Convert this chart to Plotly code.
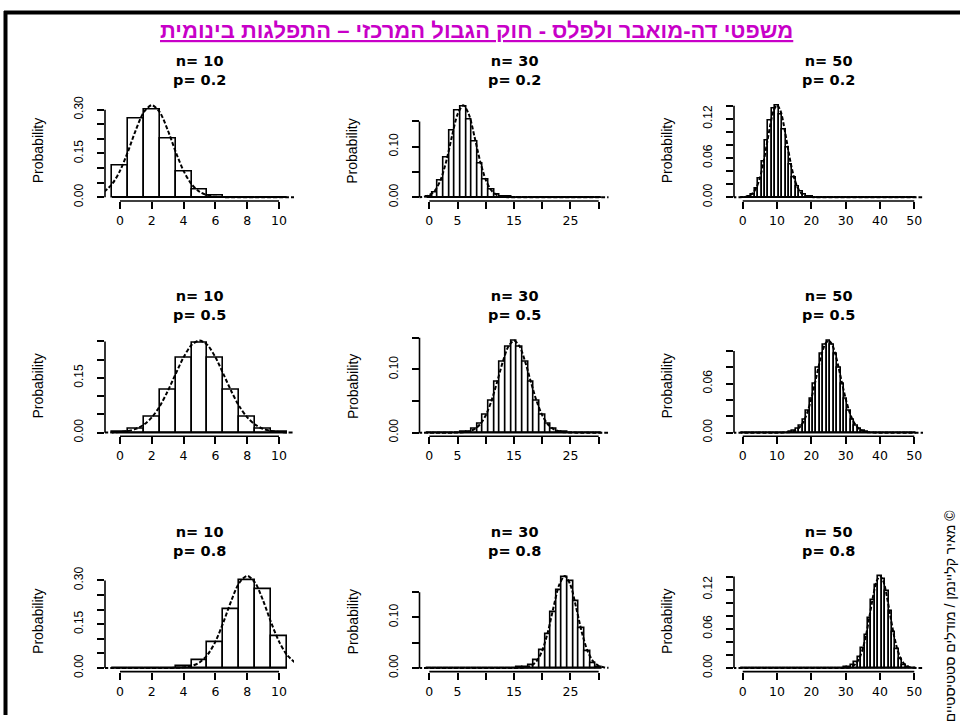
import plotly.graph_objects as go

W, H = 960, 721

# ---------------- data ----------------
k_n10 = list(range(0, 11))
k_n30 = list(range(0, 31))
k_n50 = list(range(0, 51))

binom_10_02 = [0.1074, 0.2684, 0.3020, 0.2013, 0.0881, 0.0264, 0.0055, 0.0008, 0.0001, 0.0000, 0.0000]
binom_10_05 = [0.0010, 0.0098, 0.0439, 0.1172, 0.2051, 0.2461, 0.2051, 0.1172, 0.0439, 0.0098, 0.0010]
binom_10_08 = [0.0000, 0.0000, 0.0001, 0.0008, 0.0055, 0.0264, 0.0881, 0.2013, 0.3020, 0.2684, 0.1074]

binom_30_02 = [0.0012, 0.0093, 0.0337, 0.0785, 0.1325, 0.1723, 0.1795, 0.1538, 0.1106, 0.0676,
               0.0355, 0.0161, 0.0064, 0.0022, 0.0007, 0.0002, 0.0000, 0.0000, 0.0000, 0.0000,
               0.0000, 0.0000, 0.0000, 0.0000, 0.0000, 0.0000, 0.0000, 0.0000, 0.0000, 0.0000, 0.0000]
binom_30_05 = [0.0000, 0.0000, 0.0000, 0.0000, 0.0000, 0.0001, 0.0006, 0.0019, 0.0055, 0.0133,
               0.0280, 0.0509, 0.0806, 0.1115, 0.1354, 0.1445, 0.1354, 0.1115, 0.0806, 0.0509,
               0.0280, 0.0133, 0.0055, 0.0019, 0.0006, 0.0001, 0.0000, 0.0000, 0.0000, 0.0000, 0.0000]
binom_30_08 = [0.0000, 0.0000, 0.0000, 0.0000, 0.0000, 0.0000, 0.0000, 0.0000, 0.0000, 0.0000,
               0.0000, 0.0000, 0.0000, 0.0000, 0.0000, 0.0002, 0.0007, 0.0022, 0.0064, 0.0161,
               0.0355, 0.0676, 0.1106, 0.1538, 0.1795, 0.1723, 0.1325, 0.0785, 0.0337, 0.0093, 0.0012]

binom_50_02 = [0.0000, 0.0002, 0.0011, 0.0044, 0.0128, 0.0295, 0.0554, 0.0870, 0.1169, 0.1364,
               0.1398, 0.1271, 0.1033, 0.0755, 0.0499, 0.0299, 0.0164, 0.0082, 0.0038, 0.0016,
               0.0006, 0.0002, 0.0001, 0.0000, 0.0000, 0.0000, 0.0000, 0.0000, 0.0000, 0.0000,
               0.0000, 0.0000, 0.0000, 0.0000, 0.0000, 0.0000, 0.0000, 0.0000, 0.0000, 0.0000,
               0.0000, 0.0000, 0.0000, 0.0000, 0.0000, 0.0000, 0.0000, 0.0000, 0.0000, 0.0000, 0.0000]
binom_50_05 = [0.0000, 0.0000, 0.0000, 0.0000, 0.0000, 0.0000, 0.0000, 0.0000, 0.0000, 0.0000,
               0.0000, 0.0000, 0.0001, 0.0003, 0.0008, 0.0020, 0.0044, 0.0087, 0.0160, 0.0270,
               0.0419, 0.0598, 0.0788, 0.0960, 0.1080, 0.1123, 0.1080, 0.0960, 0.0788, 0.0598,
               0.0419, 0.0270, 0.0160, 0.0087, 0.0044, 0.0020, 0.0008, 0.0003, 0.0001, 0.0000,
               0.0000, 0.0000, 0.0000, 0.0000, 0.0000, 0.0000, 0.0000, 0.0000, 0.0000, 0.0000, 0.0000]
binom_50_08 = [0.0000, 0.0000, 0.0000, 0.0000, 0.0000, 0.0000, 0.0000, 0.0000, 0.0000, 0.0000,
               0.0000, 0.0000, 0.0000, 0.0000, 0.0000, 0.0000, 0.0000, 0.0000, 0.0000, 0.0000,
               0.0000, 0.0000, 0.0000, 0.0000, 0.0000, 0.0000, 0.0000, 0.0000, 0.0001, 0.0002,
               0.0006, 0.0016, 0.0038, 0.0082, 0.0164, 0.0299, 0.0499, 0.0755, 0.1033, 0.1271,
               0.1398, 0.1364, 0.1169, 0.0870, 0.0554, 0.0295, 0.0128, 0.0044, 0.0011, 0.0002, 0.0000]

# normal approximation curves
curve_x_n10 = [-1.0, -0.5, 0.0, 0.5, 1.0, 1.5, 2.0, 2.5, 3.0, 3.5, 4.0, 4.5, 5.0,
               5.5, 6.0, 6.5, 7.0, 7.5, 8.0, 8.5, 9.0, 9.5, 10.0, 10.5, 11.0]
curve_10_02 = [0.0189, 0.0447, 0.0904, 0.1561, 0.2307, 0.2917, 0.3154, 0.2917, 0.2307, 0.1561,
               0.0904, 0.0447, 0.0189, 0.0069, 0.0021, 0.0006, 0.0001, 0, 0, 0, 0, 0, 0, 0, 0]
curve_10_05 = [0.0002, 0.0006, 0.0017, 0.0044, 0.0103, 0.0218, 0.0417, 0.0723, 0.1134, 0.1609,
               0.2066, 0.2400, 0.2523, 0.2400, 0.2066, 0.1609, 0.1134, 0.0723, 0.0417, 0.0218,
               0.0103, 0.0044, 0.0017, 0.0006, 0.0002]
curve_10_08 = [0, 0, 0, 0, 0, 0, 0, 0, 0.0001, 0.0006, 0.0021, 0.0069, 0.0189, 0.0447, 0.0904,
               0.1561, 0.2307, 0.2917, 0.3154, 0.2917, 0.2307, 0.1561, 0.0904, 0.0447, 0.0189]

curve_x_n30 = list(range(-2, 33))
curve_30_02 = [0.0002, 0.0011, 0.0043, 0.0135, 0.0344, 0.0713, 0.1200, 0.1641, 0.1821, 0.1641,
               0.1200, 0.0713, 0.0344, 0.0135, 0.0043, 0.0011, 0.0002, 0, 0, 0,
               0, 0, 0, 0, 0, 0, 0, 0, 0, 0, 0, 0, 0, 0, 0]
curve_30_05 = [0, 0, 0, 0, 0, 0, 0, 0.0002, 0.0007, 0.0020,
               0.0056, 0.0132, 0.0275, 0.0501, 0.0799, 0.1116, 0.1363, 0.1457, 0.1363, 0.1116,
               0.0799, 0.0501, 0.0275, 0.0132, 0.0056, 0.0020, 0.0007, 0.0002, 0, 0,
               0, 0, 0, 0, 0]
curve_30_08 = [0, 0, 0, 0, 0, 0, 0, 0, 0, 0,
               0, 0, 0, 0, 0, 0, 0, 0, 0.0002, 0.0011,
               0.0043, 0.0135, 0.0344, 0.0713, 0.1200, 0.1641, 0.1821, 0.1641, 0.1200, 0.0713,
               0.0344, 0.0135, 0.0043, 0.0011, 0.0002]

curve_x_n50 = list(range(-3, 54))
curve_50_02 = [0, 0, 0.0001, 0.0003, 0.0009, 0.0026, 0.0066, 0.0149, 0.0296, 0.0519,
               0.0804, 0.1098, 0.1325, 0.1410, 0.1325, 0.1098, 0.0804, 0.0519, 0.0296, 0.0149,
               0.0066, 0.0026, 0.0009, 0.0003, 0.0001, 0, 0, 0, 0, 0,
               0, 0, 0, 0, 0, 0, 0, 0, 0, 0,
               0, 0, 0, 0, 0, 0, 0, 0, 0, 0,
               0, 0, 0, 0, 0, 0, 0]
curve_50_05 = [0, 0, 0, 0, 0, 0, 0, 0, 0, 0,
               0, 0, 0, 0, 0, 0.0001, 0.0004, 0.0009, 0.0021, 0.0044,
               0.0087, 0.0159, 0.0267, 0.0415, 0.0595, 0.0787, 0.0962, 0.1084, 0.1128, 0.1084,
               0.0962, 0.0787, 0.0595, 0.0415, 0.0267, 0.0159, 0.0087, 0.0044, 0.0021, 0.0009,
               0.0004, 0.0001, 0, 0, 0, 0, 0, 0, 0, 0,
               0, 0, 0, 0, 0, 0, 0]
curve_50_08 = [0, 0, 0, 0, 0, 0, 0, 0, 0, 0,
               0, 0, 0, 0, 0, 0, 0, 0, 0, 0,
               0, 0, 0, 0, 0, 0, 0, 0, 0, 0,
               0, 0, 0.0001, 0.0003, 0.0009, 0.0026, 0.0066, 0.0149, 0.0296, 0.0519,
               0.0804, 0.1098, 0.1325, 0.1410, 0.1325, 0.1098, 0.0804, 0.0519, 0.0296, 0.0149,
               0.0066, 0.0026, 0.0009, 0.0003, 0.0001, 0, 0]

# tick labels
xt_n10 = [0, 2, 4, 6, 8, 10]
xl_n10 = ["0", "2", "4", "6", "8", "10"]
xt_n30 = [0, 5, 10, 15, 20, 25, 30]
xl_n30 = ["0", "5", "", "15", "", "25", ""]
xt_n50 = [0, 10, 20, 30, 40, 50]
xl_n50 = ["0", "10", "20", "30", "40", "50"]

yt_n10_skew = [0, 0.05, 0.10, 0.15, 0.20, 0.25, 0.30]
yl_n10_skew = ["0.00", "", "", "0.15", "", "", "0.30"]
yt_n10_sym = [0, 0.05, 0.10, 0.15, 0.20, 0.25]
yl_n10_sym = ["0.00", "", "", "0.15", "", ""]
yt_n30 = [0, 0.05, 0.10, 0.15]
yl_n30 = ["0.00", "", "0.10", ""]
yt_n50_skew = [0, 0.02, 0.04, 0.06, 0.08, 0.10, 0.12, 0.14]
yl_n50_skew = ["0.00", "", "", "0.06", "", "", "0.12", ""]
yt_n50_sym = [0, 0.02, 0.04, 0.06, 0.08, 0.10]
yl_n50_sym = ["0.00", "", "", "0.06", "", ""]

n_labels = ["10", "30", "50"]
p_labels = ["0.2", "0.5", "0.8"]

title_text = "משפטי דה-מואבר ולפלס - חוק הגבול המרכזי – התפלגות בינומית"
credit_text = "מאיר קליינמן / מודלים סטטיסטיים ©"
y_title = "Probability"

panels = [
    # row 0 : p = 0.2
    (k_n10, binom_10_02, curve_x_n10, curve_10_02, xt_n10, xl_n10, yt_n10_skew, yl_n10_skew),
    (k_n30, binom_30_02, curve_x_n30, curve_30_02, xt_n30, xl_n30, yt_n30, yl_n30),
    (k_n50, binom_50_02, curve_x_n50, curve_50_02, xt_n50, xl_n50, yt_n50_skew, yl_n50_skew),
    # row 1 : p = 0.5
    (k_n10, binom_10_05, curve_x_n10, curve_10_05, xt_n10, xl_n10, yt_n10_sym, yl_n10_sym),
    (k_n30, binom_30_05, curve_x_n30, curve_30_05, xt_n30, xl_n30, yt_n30, yl_n30),
    (k_n50, binom_50_05, curve_x_n50, curve_50_05, xt_n50, xl_n50, yt_n50_sym, yl_n50_sym),
    # row 2 : p = 0.8
    (k_n10, binom_10_08, curve_x_n10, curve_10_08, xt_n10, xl_n10, yt_n10_skew, yl_n10_skew),
    (k_n30, binom_30_08, curve_x_n30, curve_30_08, xt_n30, xl_n30, yt_n30, yl_n30),
    (k_n50, binom_50_08, curve_x_n50, curve_50_08, xt_n50, xl_n50, yt_n50_skew, yl_n50_skew),
]

# ---------------- layout geometry (pixels) ----------------
col_left = [105, 419.5, 734]
plot_w = 189
row_bottom = [199, 438, 677]
plot_h = 101

FONT = "Liberation Sans, Arial, sans-serif"
WIDE = "DejaVu Sans, Verdana, sans-serif"
LINE_W = 1.6

fig = go.Figure()
layout = dict(
    width=W, height=H,
    margin=dict(l=0, r=0, t=0, b=0),
    paper_bgcolor="white", plot_bgcolor="white",
    showlegend=False,
    font=dict(family=FONT, color="black", size=13),
)
shapes = []
annotations = []

for idx, (ks, probs, cx, cy, xt, xl, yt, yl) in enumerate(panels):
    r, c = divmod(idx, 3)
    ax = idx + 1
    xa = "x" if ax == 1 else f"x{ax}"
    ya = "y" if ax == 1 else f"y{ax}"
    xkey = "xaxis" if ax == 1 else f"xaxis{ax}"
    ykey = "yaxis" if ax == 1 else f"yaxis{ax}"

    x0p = col_left[c] / W
    x1p = (col_left[c] + plot_w) / W
    y0p = 1 - row_bottom[r] / H
    y1p = 1 - (row_bottom[r] - plot_h) / H

    lo, hi = ks[0] - 0.5, ks[-1] + 0.5
    pad_x = 0.04 * (hi - lo)
    ymax = max(max(probs), max(cy))

    layout[xkey] = dict(
        domain=[x0p, x1p], anchor=ya, range=[lo - pad_x, hi + pad_x],
        showgrid=False, zeroline=False, showline=False,
        ticks="outside", ticklen=7, tickwidth=LINE_W, tickcolor="black",
        tickmode="array", tickvals=xt, ticktext=xl,
        tickfont=dict(family=WIDE, size=12.5, color="black"),
        ticklabelstandoff=1, fixedrange=True,
    )
    layout[ykey] = dict(
        domain=[y0p, y1p], anchor=xa, range=[-0.04 * ymax, 1.04 * ymax],
        showgrid=False, zeroline=False, showline=False,
        ticks="outside", ticklen=7, tickwidth=LINE_W, tickcolor="black",
        tickmode="array", tickvals=yt, ticktext=yl, tickangle=-90,
        tickfont=dict(family=FONT, size=12, color="black"),
        ticklabelstandoff=9, fixedrange=True,
    )

    # bars
    fig.add_trace(go.Bar(
        x=ks, y=probs, width=1, xaxis=xa, yaxis=ya,
        marker=dict(color="white", line=dict(color="black", width=LINE_W)),
        hoverinfo="skip",
    ))
    # zero-height bar outlines (baseline)
    fig.add_trace(go.Scatter(
        x=[lo, hi], y=[0, 0], mode="lines", xaxis=xa, yaxis=ya,
        line=dict(color="black", width=LINE_W), hoverinfo="skip",
    ))
    # normal curve
    fig.add_trace(go.Scatter(
        x=cx, y=cy, mode="lines", xaxis=xa, yaxis=ya,
        line=dict(color="black", width=2, dash="4px,2px", shape="spline", smoothing=0.8),
        hoverinfo="skip",
    ))

    # R-style axis lines (first to last tick)
    shapes.append(dict(type="line", xref=xa, yref="paper",
                       x0=xt[0], x1=xt[-1], y0=y0p, y1=y0p,
                       line=dict(color="black", width=LINE_W)))
    shapes.append(dict(type="line", xref="paper", yref=ya,
                       x0=x0p, x1=x0p, y0=yt[0], y1=yt[-1],
                       line=dict(color="black", width=LINE_W)))

    # panel titles
    cxp = (x0p + x1p) / 2
    top_px = row_bottom[r] - plot_h
    annotations.append(dict(text=f"<b>n= {n_labels[c]}<br>p= {p_labels[r]}</b>",
                            xref="paper", yref="paper",
                            x=cxp, y=1 - (top_px - 31.5) / H, xanchor="center", yanchor="middle",
                            showarrow=False, font=dict(family=WIDE, size=14.5, color="black")))
    # y title
    annotations.append(dict(text=y_title, xref="paper", yref="paper",
                            x=(col_left[c] - 67) / W, y=1 - (row_bottom[r] - plot_h / 2) / H,
                            xanchor="center", yanchor="middle", textangle=-90,
                            showarrow=False, font=dict(family=FONT, size=14, color="black")))

# main title
annotations.append(dict(text=f"<b><u>{title_text}</u></b>", xref="paper", yref="paper",
                        x=476 / W, y=1 - 26 / H, xanchor="center", yanchor="middle",
                        showarrow=False, font=dict(family=FONT, size=22, color="#c800c8")))
# credit (vertical)
annotations.append(dict(text=credit_text, xref="paper", yref="paper",
                        x=950 / W, y=1 - 511 / H, xanchor="center", yanchor="top",
                        textangle=-90, showarrow=False,
                        font=dict(family=FONT, size=14, color="black")))

# slide frame (top and left)
shapes.append(dict(type="line", xref="paper", yref="paper",
                   x0=4 / W, x1=1, y0=1 - 7.5 / H, y1=1 - 7.5 / H,
                   line=dict(color="black", width=4)))
shapes.append(dict(type="line", xref="paper", yref="paper",
                   x0=5.5 / W, x1=5.5 / W, y0=1 - 6 / H, y1=0,
                   line=dict(color="black", width=4)))

layout["shapes"] = shapes
layout["annotations"] = annotations
layout["barmode"] = "overlay"
layout["bargap"] = 0
fig.update_layout(**layout)

fig.write_html("out.html", config={"displayModeBar": False})
